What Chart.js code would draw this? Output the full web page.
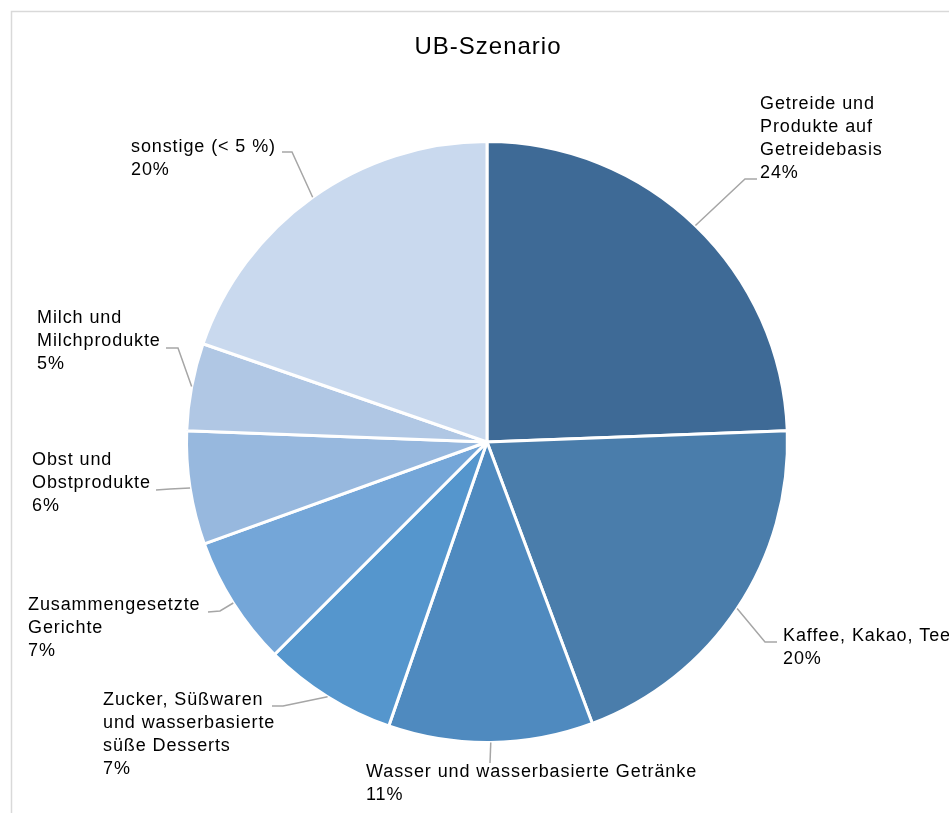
<!DOCTYPE html>
<html>
<head>
<meta charset="utf-8">
<script src="https://cdn.jsdelivr.net/npm/chart.js@4.4.1/dist/chart.umd.min.js"></script>
<style>
  html, body { margin: 0; padding: 0; background: #fff; }
  #wrap { width: 949px; height: 813px; }
</style>
</head>
<body>
<div id="wrap"><canvas id="chartUB" width="949" height="813"></canvas></div>
<script>
// Kategorien (Zeilen je Beschriftung) und Anteile in %
const kategorien = [
    ["Getreide und", "Produkte auf", "Getreidebasis"],
    ["Kaffee, Kakao, Tee"],
    ["Wasser und wasserbasierte Getränke"],
    ["Zucker, Süßwaren", "und wasserbasierte", "süße Desserts"],
    ["Zusammengesetzte", "Gerichte"],
    ["Obst und", "Obstprodukte"],
    ["Milch und", "Milchprodukte"],
    ["sonstige (< 5 %)"]
];
const anteile = [24.4, 19.9, 11.0, 7.2, 7.0, 6.1, 4.7, 19.7];
const farben = ['#3e6a96', '#4a7dab', '#4f8abf', '#5596cd', '#74a6d8', '#97b8de', '#b0c7e4', '#c9d9ee'];
const titel = "UB-Szenario";

// Lage der Beschriftungen: Textanfang, Mitte erste Zeile, Knick- und Endpunkt der Führungslinie
const beschriftungLage = [
    { x: 760, y: 104, knick: [745, 179], ende: [757, 179] },
    { x: 783, y: 636, knick: [765, 642], ende: [777, 642] },
    { x: 366, y: 772, knick: [490, 763], ende: [490, 763] },
    { x: 103, y: 700, knick: [283, 706], ende: [272, 706] },
    { x: 28,  y: 605, knick: [220, 611], ende: [208, 612] },
    { x: 32,  y: 460, knick: [170, 489], ende: [156, 490] },
    { x: 37,  y: 318, knick: [178, 348], ende: [166, 348] },
    { x: 131, y: 147, knick: [292, 152], ende: [282, 152] }
];

const zeilenAbstand = 23;

const beschriftungPlugin = {
    id: 'beschriftung',
    beforeDraw(chart) {
        const ctx = chart.ctx;
        ctx.save();
        // Rahmen des Diagrammbereichs (rechts/unten abgeschnitten)
        ctx.strokeStyle = '#d9d9d9';
        ctx.lineWidth = 1.5;
        ctx.beginPath();
        ctx.moveTo(11.5, 1000);
        ctx.lineTo(11.5, 11.5);
        ctx.lineTo(1000, 11.5);
        ctx.stroke();
        ctx.restore();
    },
    afterDraw(chart) {
        const ctx = chart.ctx;
        const meta = chart.getDatasetMeta(0);
        const summe = anteile.reduce((a, b) => a + b, 0);

        ctx.save();
        // Titel
        ctx.fillStyle = '#000';
        ctx.font = '24px "Liberation Sans", Arial, sans-serif';
        ctx.letterSpacing = '1px';
        ctx.textAlign = 'center';
        ctx.textBaseline = 'middle';
        const ca = chart.chartArea;
        ctx.fillText(titel, (ca.left + ca.right) / 2 + 1, 47);

        ctx.font = '18px "Liberation Sans", Arial, sans-serif';
        ctx.letterSpacing = '0.9px';
        ctx.textAlign = 'left';

        meta.data.forEach((arc, i) => {
            const p = arc.getProps(['x', 'y', 'startAngle', 'endAngle', 'outerRadius'], true);
            const mitte = (p.startAngle + p.endAngle) / 2;
            const sx = p.x + Math.cos(mitte) * p.outerRadius;
            const sy = p.y + Math.sin(mitte) * p.outerRadius;
            const lage = beschriftungLage[i];

            // Führungslinie
            ctx.strokeStyle = '#a6a6a6';
            ctx.lineWidth = 1.5;
            ctx.beginPath();
            ctx.moveTo(sx, sy);
            ctx.lineTo(lage.knick[0], lage.knick[1]);
            ctx.lineTo(lage.ende[0], lage.ende[1]);
            ctx.stroke();

            // Text
            const zeilen = kategorien[i].concat([Math.round(anteile[i] / summe * 100) + '%']);
            ctx.fillStyle = '#000';
            zeilen.forEach((z, k) => {
                ctx.fillText(z, lage.x, lage.y + k * zeilenAbstand);
            });
        });
        ctx.restore();
    }
};

new Chart(document.getElementById("chartUB"), {
    type: 'pie',
    data: {
        labels: kategorien.map(k => k.join(' ')),
        datasets: [{
            data: anteile,
            backgroundColor: farben,
            borderColor: '#ffffff',
            borderWidth: 3
        }]
    },
    options: {
        responsive: false,
        devicePixelRatio: 1,
        animation: false,
        layout: {
            padding: { top: 140, left: 185, right: 160, bottom: 69 }
        },
        plugins: {
            legend: { display: false },
            title: { display: false },
            tooltip: { enabled: false }
        }
    },
    plugins: [beschriftungPlugin]
});
</script>
</body>
</html>
